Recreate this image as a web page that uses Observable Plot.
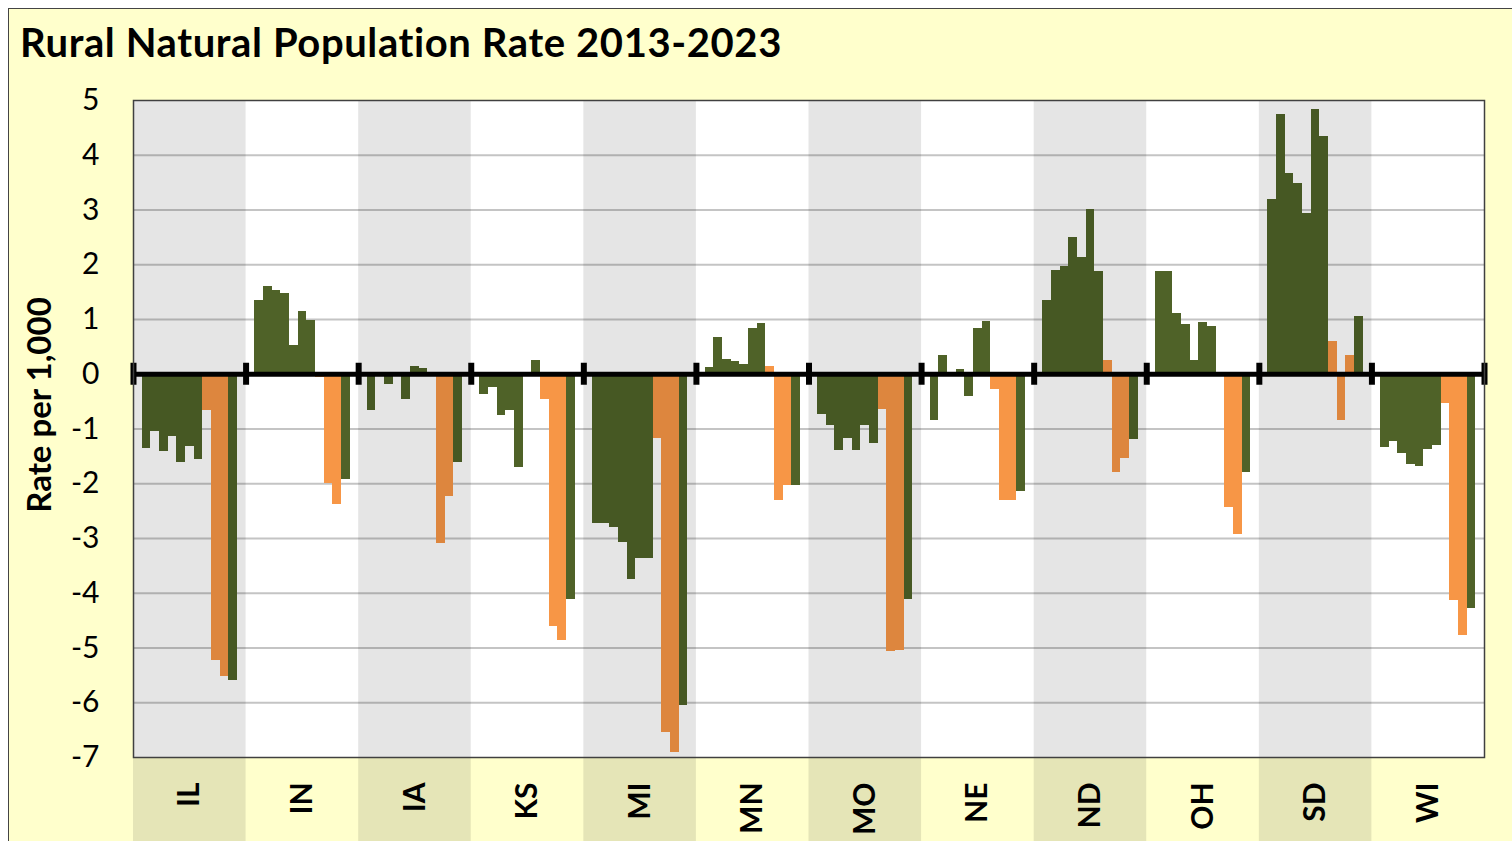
<!DOCTYPE html>
<html>
<head>
<meta charset="utf-8">
<script src="https://cdn.jsdelivr.net/npm/d3@7"></script>
<script src="https://cdn.jsdelivr.net/npm/@observablehq/plot@0.6"></script>
<style>
  html, body { margin: 0; padding: 0; background: #ffffff; overflow: hidden; }
  #frame { position: absolute; left: 8px; top: 8px; width: 1530px; height: 860px;
           background: #FFFFCC; border-left: 1.5px solid #444; border-top: 1.5px solid #444; }
  #chart { position: absolute; left: 0; top: 0; width: 1512px; height: 841px; }
  #title { position: absolute; left: 20px; top: 22px; margin: 0; font-family: Lato, sans-serif;
           font-weight: bold; font-size: 40px; letter-spacing: 0.6px; line-height: 1; color: #000; white-space: nowrap; }
  #plot { position: absolute; left: 0; top: 80px; }
</style>
</head>
<body>
<div id="frame"></div>
<div id="chart">
  <div id="title">Rural Natural Population Rate 2013-2023</div>
  <div id="plot"></div>
</div>
<script>
const titleText = "Rural Natural Population Rate 2013-2023";
const yTitle = "Rate per 1,000";
const years = [2013, 2014, 2015, 2016, 2017, 2018, 2019, 2020, 2021, 2022, 2023];
const covidYears = [2020, 2021, 2022];
const states = ["IL", "IN", "IA", "KS", "MI", "MN", "MO", "NE", "ND", "OH", "SD", "WI"];
const shadedStates = ["IL", "IA", "MI", "MO", "ND", "SD"];
const yTicks = [-7, -6, -5, -4, -3, -2, -1, 0, 1, 2, 3, 4, 5];
const gridValues = [-6, -5, -4, -3, -2, -1, 1, 2, 3, 4];

const IL = [-1.35, -1.04, -1.42, -1.14, -1.62, -1.32, -1.55, -0.66, -5.23, -5.52, -5.60];
const IN = [1.34, 1.61, 1.53, 1.48, 0.52, 1.15, 0.99, -0.06, -2.00, -2.37, -1.93];
const IA = [-0.66, -0.02, -0.19, 0.02, -0.47, 0.15, 0.11, -0.05, -3.09, -2.23, -1.61];
const KS = [-0.37, -0.24, -0.76, -0.67, -1.71, 0.02, 0.25, -0.46, -4.60, -4.86, -4.11];
const MI = [-2.73, -2.73, -2.79, -3.07, -3.74, -3.36, -3.36, -1.17, -6.54, -6.90, -6.05];
const MN = [0.13, 0.67, 0.27, 0.24, 0.18, 0.84, 0.93, 0.15, -2.30, -2.04, -2.04];
const MO = [-0.73, -0.94, -1.40, -1.18, -1.40, -0.94, -1.27, -0.65, -5.07, -5.04, -4.12];
const NE = [-0.84, 0.34, 0.02, 0.08, -0.41, 0.83, 0.96, -0.28, -2.31, -2.31, -2.14];
const ND = [1.35, 1.90, 1.96, 2.49, 2.13, 3.01, 1.87, 0.26, -1.79, -1.53, -1.20];
const OH = [1.87, 1.87, 1.11, 0.91, 0.26, 0.95, 0.88, -0.05, -2.43, -2.92, -1.80];
const SD = [3.19, 4.74, 3.66, 3.49, 2.94, 4.83, 4.34, 0.59, -0.84, 0.34, 1.06];
const WI = [-1.34, -1.22, -1.44, -1.65, -1.68, -1.38, -1.31, -0.53, -4.13, -4.78, -4.27];

const seriesByState = {IL, IN, IA, KS, MI, MN, MO, NE, ND, OH, SD, WI};

const GREEN = "#4F6228";
const ORANGE = "#F79646";

// each state group: one empty slot, 11 year slots, one empty slot
const slotsPerState = years.length + 2;

const rows = [];
states.forEach((s, si) => {
  seriesByState[s].forEach((v, yi) => {
    rows.push({
      state: s,
      year: years[yi],
      value: v,
      slot: si * slotsPerState + 1 + yi,
      color: covidYears.includes(years[yi]) ? ORANGE : GREEN
    });
  });
});
const stateRows = states.map((s, i) => ({state: s, start: i * slotsPerState, end: (i + 1) * slotsPerState, mid: i * slotsPerState + slotsPerState / 2}));
const bandRows = stateRows.filter(d => shadedStates.includes(d.state));
const boundaries = d3.range(0, states.length * slotsPerState + 1, slotsPerState);

document.getElementById("title").textContent = titleText;

const chart = Plot.plot({
  width: 1512,
  height: 761,
  marginTop: 20,
  marginBottom: 84,
  marginLeft: 133,
  marginRight: 28,
  style: {fontFamily: "Lato, sans-serif", background: "transparent", color: "#000"},
  x: {domain: [0, states.length * slotsPerState], axis: null},
  y: {domain: [-7, 5], axis: null},
  marks: [
    Plot.frame({fill: "white", stroke: null}),
    Plot.ruleY(gridValues, {stroke: "#c4c4c4", strokeWidth: 2}),
    Plot.rectY(rows, {x1: "slot", x2: d => d.slot + 1, y: "value", fill: "color", shapeRendering: "crispEdges"}),
    Plot.rect(bandRows, {x1: "start", x2: "end", fill: "black", fillOpacity: 0.1, insetBottom: -90}),
    Plot.ruleY([0], {stroke: "black", strokeWidth: 5}),
    Plot.ruleX(boundaries, {y1: 0, y2: 0, stroke: "black", strokeWidth: 6, insetTop: -11, insetBottom: -11}),
    Plot.frame({stroke: "#404040", strokeWidth: 1.5}),
    Plot.axisY({ticks: yTicks, tickSize: 0, tickPadding: 34, fontSize: 30, label: null, tickFormat: d => String(d)}),
    Plot.text(stateRows, {x: "mid", frameAnchor: "bottom", text: "state", rotate: -90, textAnchor: "end", lineAnchor: "middle", dy: 25, fontSize: 30, fontWeight: "bold", fill: "black"}),
    Plot.text([yTitle], {frameAnchor: "left", text: d => d, rotate: -90, textAnchor: "middle", lineAnchor: "middle", dx: -93, dy: -24, fontSize: 33, fontWeight: "bold", fill: "black"})
  ]
});
document.getElementById("plot").appendChild(chart);
</script>
</body>
</html>
